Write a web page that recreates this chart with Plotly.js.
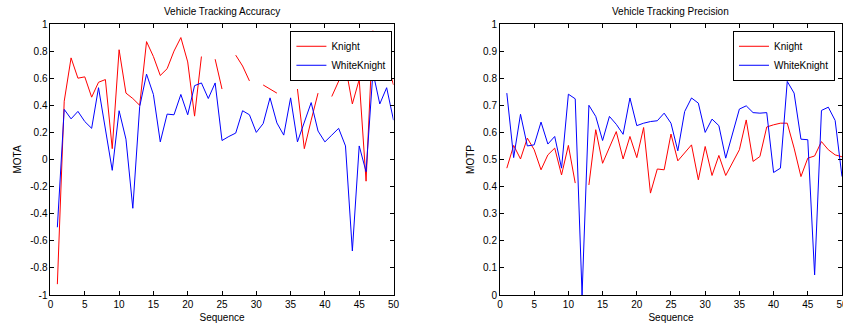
<!DOCTYPE html>
<html>
<head>
<meta charset="utf-8">
<script src="https://cdn.plot.ly/plotly-3.0.1.min.js"></script>
<style>html,body{margin:0;padding:0;background:#fff;}#chart{width:843px;height:325px;}</style>
</head>
<body>
<div id="chart"></div>
<script>
// ---- data ----
const sequence = Array.from({length: 50}, (_, i) => i + 1);

const knightMOTA = [
  -0.92, 0.43, 0.75, 0.60, 0.61, 0.46, 0.57, 0.59, 0.08, 0.81,
  0.49, 0.45, 0.40, 0.87, 0.76, 0.62, 0.67, 0.80, 0.90, 0.72,
  0.32, 0.76, null, 0.74, 0.52, null, 0.77, 0.69, 0.58, null,
  0.55, 0.52, 0.49, null, null, 0.52, 0.08, 0.29, 0.49, null,
  0.465, 0.58, 0.69, 0.41, 0.59, -0.16, 0.95, 0.85, 0.72, 0.55
];
const whiteKnightMOTA = [
  -0.50, 0.37, 0.30, 0.355, 0.28, 0.23, 0.53, 0.23, -0.08, 0.36,
  0.15, -0.36, 0.39, 0.63, 0.48, 0.13, 0.335, 0.33, 0.48, 0.33,
  0.545, 0.565, 0.45, 0.565, 0.14, 0.17, 0.195, 0.36, 0.33, 0.20,
  0.265, 0.455, 0.27, 0.18, 0.455, 0.13, 0.27, 0.42, 0.21, 0.13,
  0.18, 0.23, 0.10, -0.675, 0.10, -0.09, 0.645, 0.41, 0.53, 0.29
];
const knightMOTP = [
  0.468, 0.552, 0.502, 0.579, 0.536, 0.462, 0.517, 0.542, 0.443, 0.552,
  0.413, null, 0.406, 0.61, 0.486, 0.548, 0.603, 0.502, 0.585, 0.507,
  0.618, 0.376, 0.465, 0.462, 0.594, 0.495, 0.523, 0.554, 0.425, 0.548,
  0.441, 0.515, 0.441, 0.486, 0.536, 0.646, 0.493, 0.511, 0.62, 0.628,
  0.634, 0.634, 0.542, 0.437, 0.505, 0.513, 0.566, 0.536, 0.517, 0.51
];
const whiteKnightMOTP = [
  0.745, 0.507, 0.667, 0.55, 0.554, 0.638, 0.557, 0.585, 0.468, 0.741,
  0.724, 0.0, 0.70, 0.659, 0.57, 0.659, 0.63, 0.593, 0.727, 0.625,
  0.634, 0.64, 0.643, 0.671, 0.634, 0.532, 0.677, 0.727, 0.708, 0.60,
  0.649, 0.625, 0.505, 0.597, 0.686, 0.698, 0.673, 0.671, 0.673, 0.452,
  0.468, 0.788, 0.745, 0.575, 0.573, 0.074, 0.681, 0.693, 0.644, 0.437
];

const xTicks = [0, 5, 10, 15, 20, 25, 30, 35, 40, 45, 50];
const motaTickVals = [-1, -0.8, -0.6, -0.4, -0.2, 0, 0.2, 0.4, 0.6, 0.8, 1];
const motaTickText = ["-1", "-0.8", "-0.6", "-0.4", "-0.2", "0", "0.2", "0.4", "0.6", "0.8", "1"];
const motpTickVals = [0, 0.1, 0.2, 0.3, 0.4, 0.5, 0.6, 0.7, 0.8, 0.9, 1];
const motpTickText = ["0", "0.1", "0.2", "0.3", "0.4", "0.5", "0.6", "0.7", "0.8", "0.9", "1"];

const seriesNames = ["Knight", "WhiteKnight"];
const titles = ["Vehicle Tracking Accuracy", "Vehicle Tracking Precision"];

// ---- chart ----
const FONT = "Liberation Sans, Arial, Helvetica, sans-serif";
const RED = "#ff0000", BLUE = "#0000ff";

const traces = [
  {x: sequence, y: knightMOTA, name: seriesNames[0], mode: "lines", line: {color: RED, width: 1}, xaxis: "x", yaxis: "y", legend: "legend"},
  {x: sequence, y: whiteKnightMOTA, name: seriesNames[1], mode: "lines", line: {color: BLUE, width: 1}, xaxis: "x", yaxis: "y", legend: "legend"},
  {x: sequence, y: knightMOTP, name: seriesNames[0], mode: "lines", line: {color: RED, width: 1}, xaxis: "x2", yaxis: "y2", legend: "legend2"},
  {x: sequence, y: whiteKnightMOTP, name: seriesNames[1], mode: "lines", line: {color: BLUE, width: 1}, xaxis: "x2", yaxis: "y2", legend: "legend2"}
];

const axisBase = {
  showline: true, linecolor: "#000", linewidth: 1, mirror: "ticks",
  ticks: "inside", ticklen: 4, tickcolor: "#000", tickwidth: 1,
  showgrid: false, zeroline: false,
  tickfont: {family: FONT, size: 10, color: "#000"},
  ticklabeloverflow: "allow",
  fixedrange: true
};

const legendBase = {
  bgcolor: "#fff", bordercolor: "#000", borderwidth: 1,
  font: {family: FONT, size: 10, color: "#000"},
  xanchor: "right", yanchor: "top", itemwidth: 30
};

const D1 = [0.0599, 0.4668], D2 = [0.5931, 0.9988];

const layout = {
  width: 843, height: 325,
  margin: {l: 0, r: 0, t: 24, b: 30},
  paper_bgcolor: "#fff", plot_bgcolor: "#fff",
  font: {family: FONT, size: 10, color: "#000"},
  xaxis: Object.assign({}, axisBase, {domain: D1, range: [0, 50], tickvals: xTicks, anchor: "y",
    title: {text: "Sequence", font: {family: FONT, size: 10, color: "#000"}, standoff: 4}}),
  yaxis: Object.assign({}, axisBase, {domain: [0, 1], range: [-1, 1], tickvals: motaTickVals, ticktext: motaTickText, anchor: "x",
    title: {text: "MOTA", font: {family: FONT, size: 10, color: "#000"}, standoff: 6}}),
  xaxis2: Object.assign({}, axisBase, {domain: D2, range: [0, 50], tickvals: xTicks, anchor: "y2",
    title: {text: "Sequence", font: {family: FONT, size: 10, color: "#000"}, standoff: 4}}),
  yaxis2: Object.assign({}, axisBase, {domain: [0, 1], range: [0, 1], tickvals: motpTickVals, ticktext: motpTickText, anchor: "x2",
    title: {text: "MOTP", font: {family: FONT, size: 10, color: "#000"}, standoff: 6}}),
  legend: Object.assign({}, legendBase, {x: 0.4655, y: 0.975}),
  legend2: Object.assign({}, legendBase, {x: 0.9905, y: 0.975}),
  annotations: [
    {text: titles[0], xref: "paper", yref: "paper", x: (D1[0] + D1[1]) / 2, y: 1.045, xanchor: "center", yanchor: "middle", showarrow: false, font: {family: FONT, size: 10, color: "#000"}},
    {text: titles[1], xref: "paper", yref: "paper", x: (D2[0] + D2[1]) / 2, y: 1.045, xanchor: "center", yanchor: "middle", showarrow: false, font: {family: FONT, size: 10, color: "#000"}}
  ],
  showlegend: true
};

Plotly.newPlot("chart", traces, layout, {displayModeBar: false, staticPlot: true});
</script>
</body>
</html>
